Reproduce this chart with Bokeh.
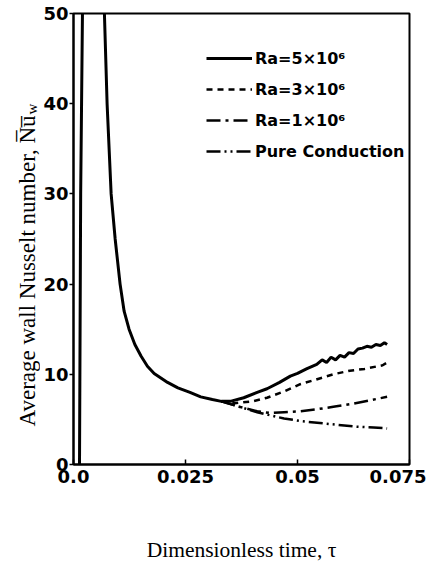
import math
from bokeh.plotting import figure
from bokeh.models import FixedTicker, Legend, LegendItem, Range1d
from bokeh.layouts import row
from bokeh.core.properties import value
from bokeh.embed import file_html
from bokeh.resources import INLINE

# ---- data ----
tau_common = [0.00134, 0.0016, 0.0020, 0.0030, 0.0045, 0.0060, 0.0069, 0.0075, 0.0084,
              0.0093, 0.0104, 0.0113, 0.0124, 0.0137, 0.0151, 0.0165, 0.0180, 0.0210,
              0.0233, 0.0260, 0.0284, 0.0310, 0.0330]
nu_common = [0.0, 30.0, 50.0, 140.0, 95.0, 65.0, 50.0, 40.0, 30.0,
             25.0, 20.0, 17.0, 15.0, 13.3, 12.0, 10.9, 10.1, 9.1,
             8.5, 8.0, 7.5, 7.2, 7.0]

tau_5e6 = [0.0330, 0.0350, 0.0380, 0.0410, 0.0432, 0.0460, 0.0484, 0.0500, 0.0520, 0.0543,
           0.0555, 0.0565, 0.0575, 0.0585, 0.0595, 0.0605, 0.0615, 0.0625, 0.0635, 0.0645,
           0.0655, 0.0665, 0.0675, 0.0685, 0.0694, 0.0700]
nu_5e6 = [7.0, 7.0, 7.4, 8.0, 8.4, 9.1, 9.8, 10.1, 10.6, 11.1,
          11.6, 11.3, 11.9, 11.6, 12.1, 11.9, 12.4, 12.3, 12.8, 12.9,
          13.1, 13.0, 13.3, 13.2, 13.5, 13.3]

tau_3e6 = [0.0330, 0.0360, 0.0400, 0.0432, 0.0470, 0.0506, 0.0540, 0.0580, 0.0617, 0.0650, 0.0690, 0.0700]
nu_3e6 = [7.0, 6.8, 7.0, 7.4, 8.1, 8.9, 9.4, 10.0, 10.4, 10.6, 11.0, 11.3]

tau_1e6 = [0.0330, 0.0370, 0.0410, 0.0440, 0.0470, 0.0506, 0.0540, 0.0580, 0.0620, 0.0660, 0.0700]
nu_1e6 = [7.0, 6.4, 5.9, 5.7, 5.8, 5.9, 6.1, 6.4, 6.7, 7.1, 7.5]

tau_cond = [0.0330, 0.0370, 0.0410, 0.0435, 0.0470, 0.0510, 0.0550, 0.0590, 0.0630, 0.0670, 0.0700]
nu_cond = [7.0, 6.4, 5.8, 5.5, 5.1, 4.8, 4.6, 4.4, 4.2, 4.1, 4.0]

x_ticks = [0.0, 0.025, 0.05, 0.075]
x_tick_labels = ["0.0", "0.025", "0.05", "0.075"]
y_ticks = [0, 10, 20, 30, 40, 50]

legend_labels = ["Ra=5\u00d710\u2076", "Ra=3\u00d710\u2076", "Ra=1\u00d710\u2076", "Pure Conduction"]
y_label_main = "Average wall Nusselt number, N\u0305u\u0305"
y_label_sub = "w"
x_label = "Dimensionless time, \u03c4"

H = 571
LEFT_W = 40

# ---- left strip holding the rotated y-axis title ----
lf = figure(frame_width=LEFT_W, frame_height=H, min_border=0,
            x_range=Range1d(0, LEFT_W), y_range=Range1d(0, H),
            x_axis_location=None, y_axis_location=None,
            output_backend="svg", toolbar_location=None)
lf.grid.visible = False
lf.outline_line_color = None
lf.border_fill_color = "white"
lf.background_fill_color = "white"
lf.text(x=[27], y=[H - 102], text=[y_label_main], angle=math.pi / 2,
        text_align="right", text_baseline="alphabetic",
        text_font=value("Liberation Serif"), text_font_size="23px", text_color="black")
lf.text(x=[31], y=[H - 101], text=[y_label_sub], angle=math.pi / 2,
        text_align="left", text_baseline="alphabetic",
        text_font=value("Liberation Serif"), text_font_size="15px", text_color="black")

# ---- main figure ----
p = figure(frame_width=336, frame_height=451,
           min_border_left=72 - LEFT_W, min_border_right=17, min_border_top=13, min_border_bottom=H - 13 - 451,
           x_range=Range1d(0, 0.075), y_range=Range1d(0, 50),
           output_backend="svg", toolbar_location=None)
p.grid.visible = False
p.outline_line_color = "black"
p.outline_line_width = 2
p.background_fill_color = "white"
p.border_fill_color = "white"

tick_font = "DejaVu Sans"
for ax in (p.xaxis[0], p.yaxis[0]):
    ax.axis_line_width = 2
    ax.major_tick_line_width = 1.5
    ax.minor_tick_line_color = None
    ax.major_label_text_font = tick_font
    ax.major_label_text_font_style = "bold"
    ax.major_label_text_font_size = "18px"
    ax.major_label_text_color = "black"

p.xaxis.ticker = FixedTicker(ticks=x_ticks)
p.xaxis.major_label_overrides = {t: s for t, s in zip(x_ticks, x_tick_labels)}
p.xaxis.major_tick_in = 5
p.xaxis.major_tick_out = 0
p.xaxis.major_label_standoff = 5
p.xaxis.axis_label = x_label
p.xaxis.axis_label_text_font = "Liberation Serif"
p.xaxis.axis_label_text_font_style = "normal"
p.xaxis.axis_label_text_font_size = "21.5px"
p.xaxis.axis_label_text_color = "black"
p.xaxis.axis_label_standoff = 52

p.yaxis.ticker = FixedTicker(ticks=y_ticks)
p.yaxis.major_tick_in = 0
p.yaxis.major_tick_out = 4
p.yaxis.major_label_standoff = 1

# curves
r5 = p.line(tau_common + tau_5e6[1:], nu_common + nu_5e6[1:], line_color="black", line_width=3)
r3 = p.line(tau_3e6, nu_3e6, line_color="black", line_width=2.5, line_dash="6 5")
r1 = p.line(tau_1e6, nu_1e6, line_color="black", line_width=2.5, line_dash="14 5 3 5")
rc = p.line(tau_cond, nu_cond, line_color="black", line_width=2.5, line_dash="14 4 2 4 2 4")

legend = Legend(items=[LegendItem(label=legend_labels[0], renderers=[r5]),
                       LegendItem(label=legend_labels[1], renderers=[r3]),
                       LegendItem(label=legend_labels[2], renderers=[r1]),
                       LegendItem(label=legend_labels[3], renderers=[rc])],
                location=(133, 303), orientation="vertical",
                glyph_width=46, glyph_height=20, label_height=20, label_standoff=3,
                spacing=11, padding=0, margin=0,
                label_text_font=tick_font, label_text_font_style="bold",
                label_text_font_size="16px", label_text_color="black",
                border_line_alpha=0, background_fill_alpha=0)
p.add_layout(legend)

layout = row(lf, p, spacing=0)
open("out.html", "w").write(file_html(layout, INLINE))
